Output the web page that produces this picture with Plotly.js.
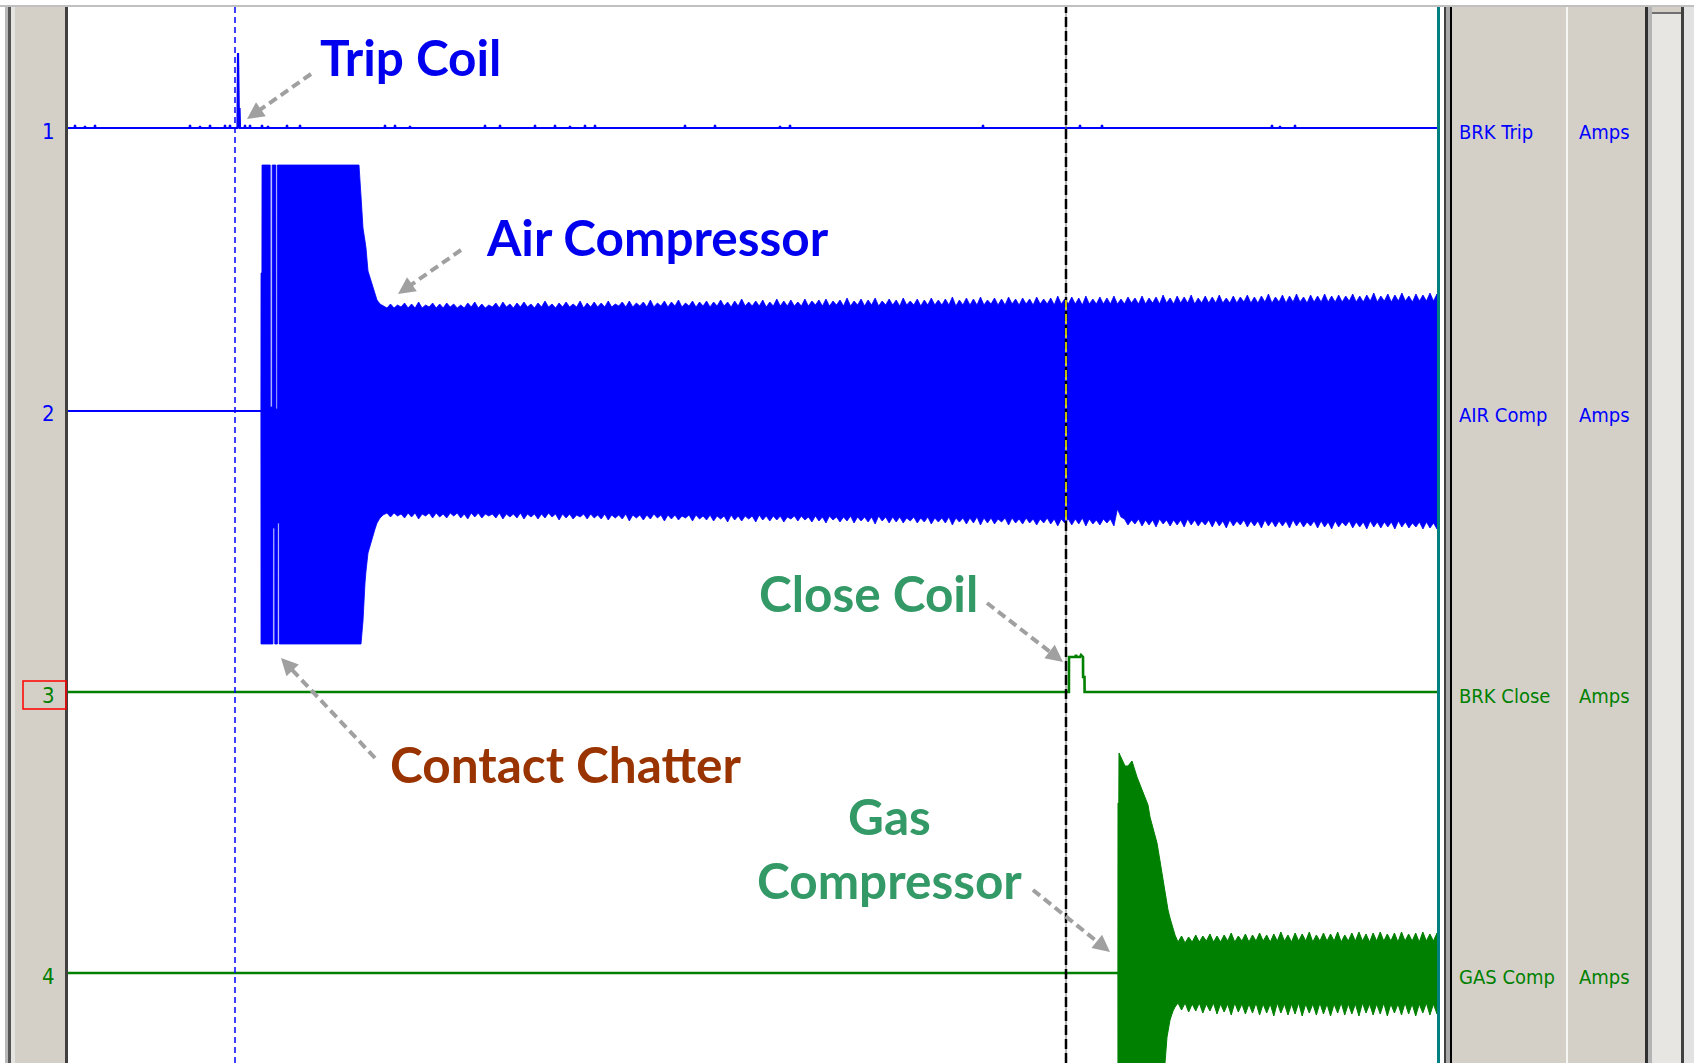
<!DOCTYPE html>
<html><head><meta charset="utf-8">
<script src="https://cdn.plot.ly/plotly-3.0.1.min.js"></script>
<style>html,body{margin:0;padding:0;background:#fff;overflow:hidden}#chart{width:1694px;height:1063px}</style>
</head><body><div id="chart"></div>
<script>
// ================= DATA (time in ms, currents in display amps) =================
const channelNumbers = ['1', '2', '3', '4'];
const channelNames = ['BRK Trip', 'AIR Comp', 'BRK Close', 'GAS Comp'];
const channelUnits = ['Amps', 'Amps', 'Amps', 'Amps'];
const cursorT = [167, 998];

// Channel 1 - breaker trip coil: baseline blips and the trip pulse
const tripBlipT = [7, 17, 27, 122, 132, 142, 157, 162, 170, 171.5, 177, 182, 194, 200, 219, 232, 317, 327, 342, 417, 432, 467, 487, 502, 517, 527, 617, 647, 712, 722, 915, 1012, 1034, 1204, 1212, 1227];
const tripBlipA = [3, 2, 3, 3, 2, 3, 3, 3, 75, 20, 3, 3, 3, 2, 3, 3, 3, 3, 2, 3, 3, 3, 3, 2, 3, 3, 3, 3, 2, 3, 3, 3, 3, 3, 2, 3];

// Channel 2 - air compressor: envelope of the start transient (with contact chatter)
const airT  = [0, 192.9, 193, 193.9, 194, 202.2, 202.3, 204.1, 204.2, 204.9, 205, 206.7, 206.8, 207.9, 208, 209.4, 209.5, 211.1, 211.2, 291, 293, 295, 297, 298, 300, 304, 307, 309, 312, 315];
const airUp = [0, 0, 138, 138, 246, 246, 4, 4, 246, 246, 246, 246, 246, 246, 2, 2, 246, 246, 246, 246, 215, 183, 170, 163, 140, 127, 115, 111, 107, 105];
const airLo = [0, 0, -233, -233, -233, -233, -233, -233, -233, -233, -117, -117, -233, -233, -233, -233, -112, -112, -233, -233, -233, -210, -172, -160, -142, -129, -118, -112, -107, -104];
// Running envelope, sampled evenly from 319 ms to 1369 ms
const airRunStart = 319, airRunEnd = 1369;
const airRunUp = [
103,107,103,106,104,108,103,107,103,109,103,106,104,108,103,107,103,108,104,107,103,106,103,108,104,109,103,107,103,106,
104,108,103,109,104,107,103,108,104,109,104,107,103,108,104,110,104,107,103,108,104,109,104,107,104,110,103,108,104,109,
104,108,104,110,104,107,105,109,104,110,104,108,105,109,104,111,104,108,105,110,104,109,105,111,104,108,105,110,104,109,
105,110,104,109,105,111,105,109,104,110,105,112,105,109,105,110,105,111,104,109,105,112,105,110,105,111,105,109,105,112,
105,110,106,111,105,112,105,110,106,111,105,113,105,110,106,112,105,111,106,113,105,110,106,112,106,111,105,113,106,110,
106,112,105,111,106,113,106,111,106,112,106,114,105,111,106,113,106,112,106,114,106,111,107,113,106,112,106,114,107,112,
106,113,107,112,106,114,107,112,107,113,106,115,107,112,107,114,107,113,106,115,107,112,107,114,107,113,107,115,107,112,
107,114,108,113,107,115,107,113,108,114,107,116,108,113,107,115,108,114,108,116,107,113,108,115,108,114,108,116,108,113,
108,115,108,114,109,116,108,114,108,115,109,117,108,114,109,116,108,115,109,117,109,114,108,116,109,115,109,117,109,115,
109,116,109,115,110,117,109,115,109,116,110,118,109,115,110,117,109,116,110,118,110,115,109,117,110,116,110,118,110,117];
const airRunLo = [
-102,-106,-102,-105,-103,-107,-102,-106,-102,-108,-103,-105,-102,-107,-102,-106,-103,-107,-102,-105,-102,-107,-103,-108,-102,-106,-102,-107,-103,-105,
-103,-107,-102,-108,-103,-106,-103,-107,-102,-108,-103,-106,-103,-108,-103,-107,-102,-106,-103,-109,-103,-107,-103,-108,-104,-106,-103,-108,-103,-107,
-104,-108,-103,-109,-104,-107,-104,-108,-103,-110,-104,-107,-104,-109,-104,-108,-103,-107,-104,-110,-104,-108,-104,-109,-105,-107,-104,-110,-104,-108,
-105,-109,-104,-110,-105,-108,-105,-111,-104,-109,-105,-110,-105,-108,-105,-111,-104,-109,-105,-110,-105,-109,-105,-111,-106,-108,-105,-110,-105,-109,
-106,-111,-105,-110,-106,-112,-105,-109,-106,-111,-106,-110,-105,-112,-106,-110,-106,-111,-106,-113,-105,-110,-106,-112,-106,-111,-106,-112,-107,-110,
-106,-112,-107,-111,-106,-113,-107,-111,-107,-112,-106,-114,-107,-111,-107,-113,-107,-112,-106,-114,-107,-112,-107,-113,-108,-111,-107,-114,-107,-112,
-108,-113,-107,-112,-108,-114,-108,-112,-107,-113,-108,-115,-108,-112,-108,-114,-108,-113,-107,-115,-108,-113,-109,-114,-108,-112,-108,-115,-98,-106,
-108,-114,-109,-113,-108,-115,-109,-114,-109,-116,-108,-113,-109,-115,-109,-114,-109,-116,-108,-114,-109,-115,-110,-114,-109,-116,-109,-115,-110,-117,
-109,-115,-110,-114,-109,-116,-110,-115,-110,-117,-109,-115,-110,-116,-110,-115,-110,-117,-109,-115,-110,-116,-111,-115,-110,-117,-110,-116,-111,-118,
-110,-116,-111,-115,-110,-117,-111,-116,-111,-118,-110,-116,-111,-117,-111,-116,-111,-118,-110,-116,-111,-117,-112,-116,-111,-118,-111,-117,-112,-118];

// Channel 3 - breaker close coil pulse
const closeT = [0, 1000.9, 1001, 1007, 1008, 1009, 1012, 1013, 1015, 1015.1, 1016.5, 1016.6, 1369];
const closeA = [0, 0, 35, 35, 37, 35, 35, 37, 35, 15, 15, 0, 0];

// Channel 4 - gas compressor start transient
const gasT  = [0, 1049.9, 1050, 1050.8, 1051, 1057, 1060, 1064, 1069, 1075, 1080, 1082, 1089, 1092, 1095, 1097, 1099, 1100, 1102, 1105, 1107];
const gasUp = [0, 0, 170, 170, 220, 207, 207, 212, 196, 181, 168, 156, 130, 112, 93, 80, 70, 63, 55, 43, 38];
const gasLo = [0, 0, -220, -220, -220, -215, -212, -210, -205, -195, -175, -165, -140, -120, -105, -90, -64, -58, -47, -38, -34];
const gasRunStart = 1110, gasRunEnd = 1369;
const gasRunUp = [31,37,30,36,31,38,31,37,32,39,31,37,31,38,32,40,31,37,32,39,31,38,32,40,32,38,31,39,32,41,32,38,31,40,32,39,32,41,31,38,32,40,32,39,32,41,31,38,32,40,32,41,32,39,31,40,32,41,32,39,32,40,31,41,32,39,32,40,31,41,32,39,32,40];
const gasRunLo = [-30,-37,-30,-39,-31,-38,-30,-40,-31,-38,-30,-41,-31,-39,-31,-42,-30,-39,-31,-41,-31,-40,-30,-42,-31,-40,-31,-43,-30,-40,-31,-42,-31,-41,-30,-43,-31,-40,-31,-42,-30,-41,-31,-43,-31,-40,-30,-42,-31,-41,-31,-43,-30,-40,-31,-42,-31,-41,-30,-43,-31,-40,-31,-42,-30,-41,-31,-43,-31,-40,-30,-42,-31,-41];

// ================= LAYOUT GEOMETRY =================
const PL = 68, PR = 1438, PT = 7, PB = 1063;          // plot area in page pixels
const baselinePx = [128, 411, 692, 973];               // vertical position of each channel
const BLUE = '#0000ff', GREEN = '#008000';
const chanColor = [BLUE, BLUE, GREEN, GREEN];

const px2x = px => px - PL;                 // x data units = 1 px
const py2y = py => baselinePx[0] - py;      // channel-1 axis units = 1 px
const ppx = px => (px - PL) / (PR - PL);    // paper coordinates
const ppy = py => (PB - py) / (PB - PT);

function evenTimes(start, end, n) {
  const out = [];
  for (let i = 0; i < n; i++) out.push(start + (end - start) * i / (n - 1));
  return out;
}
function band(tT, up, lo, runStart, runEnd, runUp, runLo) {
  const tu = evenTimes(runStart, runEnd, runUp.length);
  const tl = evenTimes(runStart, runEnd, runLo.length);
  const xUp = tT.concat(tu), yUp = up.concat(runUp);
  const xLo = tT.concat(tl), yLo = lo.concat(runLo);
  return {x: xUp.concat(xLo.slice().reverse()), y: yUp.concat(yLo.slice().reverse())};
}

// trip trace
const tripX = [0], tripY = [0];
tripBlipT.forEach((t, i) => { tripX.push(t - 0.5, t, t + 0.5); tripY.push(0, tripBlipA[i], 0); });
tripX.push(PR - PL); tripY.push(0);

const air = band(airT, airUp, airLo, airRunStart, airRunEnd, airRunUp, airRunLo);
const gas = band(gasT, gasUp, gasLo, gasRunStart, gasRunEnd, gasRunUp, gasRunLo);

const traces = [
  {x: tripX, y: tripY, yaxis: 'y', mode: 'lines', line: {color: BLUE, width: 2.2}, hoverinfo: 'skip'},
  // idle (pre-start) segment of the air compressor current
  {x: airT.slice(0, 2), y: airUp.slice(0, 2), yaxis: 'y2', mode: 'lines', line: {color: BLUE, width: 2.2}, hoverinfo: 'skip'},
  {x: air.x, y: air.y, yaxis: 'y2', mode: 'lines', fill: 'toself', fillcolor: BLUE, line: {color: BLUE, width: 0.8}, hoverinfo: 'skip'},
  {x: closeT, y: closeA, yaxis: 'y3', mode: 'lines', line: {color: GREEN, width: 2.6}, hoverinfo: 'skip'},
  {x: gasT.slice(0, 2), y: gasUp.slice(0, 2), yaxis: 'y4', mode: 'lines', line: {color: GREEN, width: 2.6}, hoverinfo: 'skip'},
  {x: gas.x, y: gas.y, yaxis: 'y4', mode: 'lines', fill: 'toself', fillcolor: GREEN, line: {color: GREEN, width: 1}, hoverinfo: 'skip'}
];

// ================= SHAPES =================
const shapes = [];
function rect(x0, y0, x1, y1, fill, lineColor, lw) {
  shapes.push({type: 'rect', xref: 'paper', yref: 'paper', layer: 'above',
    x0: ppx(x0), x1: ppx(x1), y0: ppy(y1), y1: ppy(y0),
    fillcolor: fill || 'rgba(0,0,0,0)', line: {width: lw || 0, color: lineColor || 'rgba(0,0,0,0)'}});
}
// window chrome
rect(0, 0, 1694, 5, '#ffffff');
rect(0, 5, 1694, 7, '#c0c0c0');
rect(0, 7, 5, 1063, '#ffffff');
rect(5, 7, 8, 1063, '#b8b8b8');
rect(8, 7, 11, 1063, '#555555');
rect(11, 7, 15, 1063, '#e6e4e0');
rect(65, 7, 68, 1063, '#404040');
rect(1437, 7, 1440, 1063, '#008080');
rect(1440, 7, 1444, 1063, '#ffffff');
rect(1444, 7, 1446, 1063, '#404040');
rect(1446, 7, 1450, 1063, '#a8a8a8');
rect(1450, 7, 1452, 1063, '#000000');
rect(1566, 7, 1568, 1063, '#f6f6f4');
rect(1645, 7, 1648, 1063, '#303030');
rect(1648, 7, 1652, 1063, '#b4b4b4');
rect(1652, 7, 1681, 1063, '#e8e6e2');
rect(1681, 7, 1684, 1063, '#404040');
rect(1684, 7, 1694, 1063, '#e2e2e2');
rect(1652, 7, 1681, 12, '#d4d0c8');
rect(1652, 12, 1681, 14, '#707070');
// selected channel marker
rect(23, 681, 66, 709, null, '#ff0000', 1.5);

// cursors
shapes.push({type: 'line', xref: 'x', yref: 'paper', layer: 'above', x0: cursorT[0], x1: cursorT[0], y0: 0, y1: 1,
  line: {color: BLUE, width: 1.5, dash: '6px,4px'}});
shapes.push({type: 'line', xref: 'x', yref: 'paper', layer: 'above', x0: cursorT[1], x1: cursorT[1], y0: 0, y1: 1,
  line: {color: '#707070', width: 1}});
shapes.push({type: 'line', xref: 'x', yref: 'paper', layer: 'above', x0: cursorT[1], x1: cursorT[1], y0: 0, y1: 1,
  line: {color: '#000000', width: 2.5, dash: '10px,4px'}});
shapes.push({type: 'line', xref: 'x', yref: 'y', layer: 'above', x0: cursorT[1], x1: cursorT[1], y0: py2y(300), y1: py2y(521),
  line: {color: '#ffff00', width: 1.5, dash: '10px,4px'}});

// dashed callout arrows (page pixels: tail -> tip)
function arrow(x0, y0, x1, y1) {
  const dx = x1 - x0, dy = y1 - y0, len = Math.hypot(dx, dy), ux = dx / len, uy = dy / len;
  const hl = 17, hw = 8.5;
  const bx = x1 - ux * hl, by = y1 - uy * hl;
  shapes.push({type: 'line', xref: 'x', yref: 'y', layer: 'above',
    x0: px2x(x0), y0: py2y(y0), x1: px2x(bx + ux * 3), y1: py2y(by + uy * 3),
    line: {color: '#a0a0a0', width: 4, dash: '9px,5px'}});
  const p1 = [bx - uy * hw, by + ux * hw], p2 = [bx + uy * hw, by - ux * hw];
  shapes.push({type: 'path', xref: 'x', yref: 'y', layer: 'above',
    path: `M ${px2x(x1)} ${py2y(y1)} L ${px2x(p1[0])} ${py2y(p1[1])} L ${px2x(p2[0])} ${py2y(p2[1])} Z`,
    fillcolor: '#a0a0a0', line: {width: 0}});
}
arrow(311, 74, 247, 119);
arrow(461, 250, 398, 294);
arrow(987, 603, 1063, 662);
arrow(375, 758, 281, 658);
arrow(1033, 890, 1110, 952);

// ================= ANNOTATIONS =================
const annotations = [];
const bigFont = (c) => ({family: 'Lato, "Open Sans", sans-serif', size: 49.5, color: c});
function big(text, cx, cy, color) {
  annotations.push({text: '<b>' + text + '</b>', xref: 'x', yref: 'y', x: px2x(cx), y: py2y(cy),
    xanchor: 'center', yanchor: 'middle', showarrow: false, font: bigFont(color)});
}
big('Trip Coil', 410, 57, '#0000ee');
big('Air Compressor', 657, 237, '#0000ee');
big('Close Coil', 868, 593, '#339966');
big('Contact Chatter', 566, 764, '#993300');
big('Gas<br>Compressor', 889, 848, '#339966');

const smallFont = (c) => ({family: '"Liberation Sans Narrow", "DejaVu Sans Condensed", "Arial Narrow", sans-serif', size: 20, color: c});
channelNames.forEach((name, i) => {
  const y = ppy(baselinePx[i] + 4);
  annotations.push({text: name, xref: 'paper', yref: 'paper', x: ppx(1457), y: y, xanchor: 'left', yanchor: 'middle',
    showarrow: false, font: smallFont(chanColor[i])});
  annotations.push({text: channelUnits[i], xref: 'paper', yref: 'paper', x: ppx(1577), y: y, xanchor: 'left', yanchor: 'middle',
    showarrow: false, font: smallFont(chanColor[i])});
  annotations.push({text: channelNumbers[i], xref: 'paper', yref: 'paper', x: ppx(48), y: ppy(baselinePx[i] + 3), xanchor: 'center', yanchor: 'middle',
    showarrow: false, font: Object.assign(smallFont(chanColor[i]), {size: 22})});
});

// ================= AXES =================
const yAx = (i) => ({range: [-(PB - baselinePx[i]), baselinePx[i] - PT], visible: false, fixedrange: true});
const layout = {
  width: 1694, height: 1063,
  margin: {l: PL, r: 1694 - PR, t: PT, b: 1063 - PB, pad: 0},
  paper_bgcolor: '#d4d0c8', plot_bgcolor: '#ffffff',
  showlegend: false,
  xaxis: {range: [0, PR - PL], visible: false, fixedrange: true},
  yaxis: yAx(0),
  yaxis2: Object.assign(yAx(1), {overlaying: 'y', anchor: 'x'}),
  yaxis3: Object.assign(yAx(2), {overlaying: 'y', anchor: 'x'}),
  yaxis4: Object.assign(yAx(3), {overlaying: 'y', anchor: 'x'}),
  shapes: shapes,
  annotations: annotations
};
Plotly.newPlot('chart', traces, layout, {displayModeBar: false, staticPlot: true});
</script></body></html>
